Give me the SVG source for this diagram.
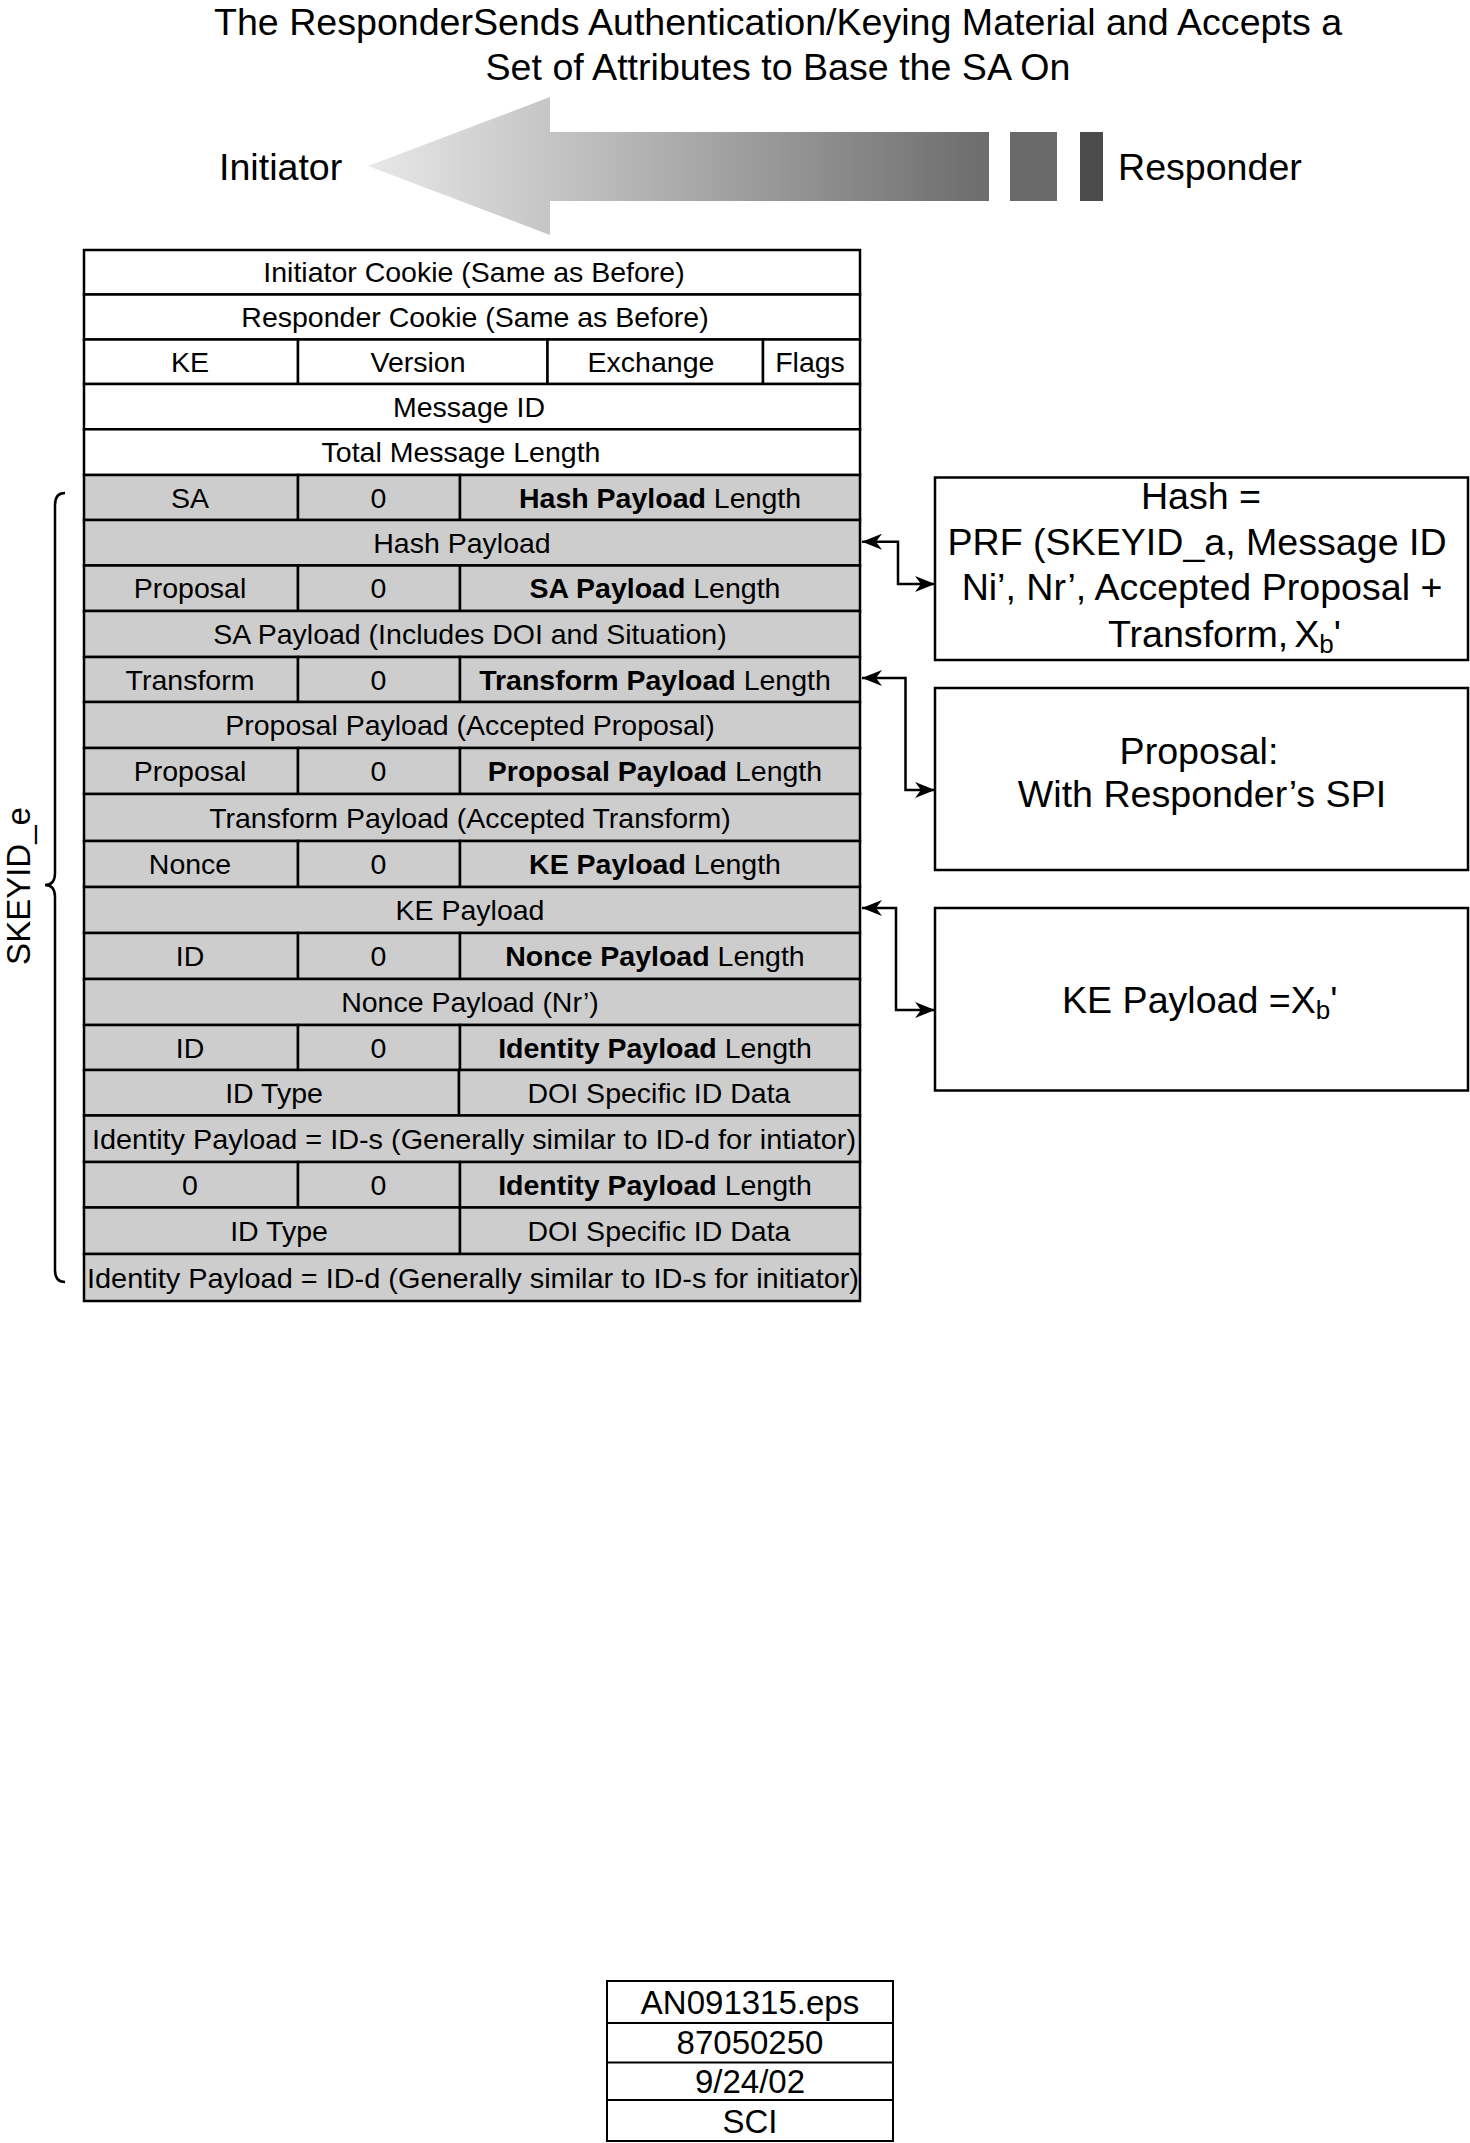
<svg xmlns="http://www.w3.org/2000/svg" width="1470" height="2143" viewBox="0 0 1470 2143">
<defs>
<style>
.c{stroke:#000;stroke-width:2.5}
.w{fill:#fff}
.g{fill:#cdcdcd}
.t{font-family:"Liberation Sans",Arial,sans-serif;font-size:28.5px;text-anchor:middle;fill:#000}
.b{font-weight:bold}
.L{font-family:"Liberation Sans",Arial,sans-serif;font-size:37.6px;fill:#000}
.m{text-anchor:middle}
.box{fill:#fff;stroke:#000;stroke-width:2.5}
.conn{fill:none;stroke:#000;stroke-width:2.5;marker-start:url(#ah);marker-end:url(#ah)}
</style>
<linearGradient id="grad" gradientUnits="userSpaceOnUse" x1="368" y1="0" x2="989" y2="0">
<stop offset="0" stop-color="#e8e8e8"/>
<stop offset="0.3" stop-color="#c4c4c4"/>
<stop offset="1" stop-color="#6c6c6c"/>
</linearGradient>
<marker id="ah" viewBox="0 0 20 16" refX="20" refY="8" markerWidth="20" markerHeight="16" orient="auto-start-reverse" markerUnits="userSpaceOnUse">
<path d="M0,0 L20,8 L0,16 L6,8 Z" fill="#000"/>
</marker>
</defs>

<g id="title">
<text class="L m" x="778" y="35">The ResponderSends Authentication/Keying Material and Accepts a</text>
<text class="L m" x="778" y="80">Set of Attributes to Base the SA On</text>
</g>

<g id="direction-arrow">
<polygon points="368,166 550,97 550,132 989,132 989,201 550,201 550,235" fill="url(#grad)"/>
<rect x="1010" y="132" width="47" height="69" fill="#6a6a6a"/>
<rect x="1080" y="132" width="23" height="69" fill="#4c4c4c"/>
</g>
<g id="initiator"><text class="L" x="219" y="180">Initiator</text></g>
<g id="responder"><text class="L" x="1118" y="180">Responder</text></g>

<g id="skeyid-e">
<path d="M65,493 Q55,493 55,505 L55,873 Q55,885 45,885 Q55,885 55,897 L55,1270 Q55,1282 65,1282" fill="none" stroke="#000" stroke-width="2.5"/>
<text class="t" style="font-size:33px" transform="translate(30,886) rotate(-90)">SKEYID_e</text>
</g>

<g id="table">
<g id="row-initiator-cookie">
<rect class="c w" x="84" y="250" width="776" height="44.5"/>
<text class="t" x="474" y="282.3">Initiator Cookie (Same as Before)</text>
</g>
<g id="row-responder-cookie">
<rect class="c w" x="84" y="294.5" width="776" height="45"/>
<text class="t" x="475" y="327">Responder Cookie (Same as Before)</text>
</g>
<g id="row-header">
<rect class="c w" x="84" y="339.5" width="214" height="44.5"/>
<rect class="c w" x="298" y="339.5" width="249.5" height="44.5"/>
<rect class="c w" x="547.5" y="339.5" width="215.5" height="44.5"/>
<rect class="c w" x="763" y="339.5" width="97" height="44.5"/>
<text class="t" x="190" y="371.8">KE</text>
<text class="t" x="418" y="371.8">Version</text>
<text class="t" x="651" y="371.8">Exchange</text>
<text class="t" x="810" y="371.8">Flags</text>
</g>
<g id="row-message-id">
<rect class="c w" x="84" y="384" width="776" height="45.3"/>
<text class="t" x="469" y="416.7">Message ID</text>
</g>
<g id="row-total-length">
<rect class="c w" x="84" y="429.3" width="776" height="45.7"/>
<text class="t" x="461" y="462.2">Total Message Length</text>
</g>

<g id="row-sa-hdr">
<rect class="c g" x="84" y="475" width="214" height="45"/>
<rect class="c g" x="298" y="475" width="162" height="45"/>
<rect class="c g" x="460" y="475" width="400" height="45"/>
<text class="t" x="190" y="507.5">SA</text>
<text class="t" x="378.5" y="507.5">0</text>
<text class="t" x="660" y="507.5"><tspan class="b">Hash Payload</tspan> Length</text>
</g>
<g id="row-hash-payload">
<rect class="c g" x="84" y="520" width="776" height="45.5"/>
<text class="t" x="462" y="552.8">Hash Payload</text>
</g>
<g id="row-proposal-hdr1">
<rect class="c g" x="84" y="565.5" width="214" height="45.5"/>
<rect class="c g" x="298" y="565.5" width="162" height="45.5"/>
<rect class="c g" x="460" y="565.5" width="400" height="45.5"/>
<text class="t" x="190" y="598.3">Proposal</text>
<text class="t" x="378.5" y="598.3">0</text>
<text class="t" x="655" y="598.3"><tspan class="b">SA Payload</tspan> Length</text>
</g>
<g id="row-sa-payload">
<rect class="c g" x="84" y="611" width="776" height="46"/>
<text class="t" x="470" y="644">SA Payload (Includes DOI and Situation)</text>
</g>
<g id="row-transform-hdr">
<rect class="c g" x="84" y="657" width="214" height="45"/>
<rect class="c g" x="298" y="657" width="162" height="45"/>
<rect class="c g" x="460" y="657" width="400" height="45"/>
<text class="t" x="190" y="689.5">Transform</text>
<text class="t" x="378.5" y="689.5">0</text>
<text class="t" x="655" y="689.5"><tspan class="b">Transform Payload</tspan> Length</text>
</g>
<g id="row-proposal-payload">
<rect class="c g" x="84" y="702" width="776" height="46"/>
<text class="t" x="470" y="735">Proposal Payload (Accepted Proposal)</text>
</g>
<g id="row-proposal-hdr2">
<rect class="c g" x="84" y="748" width="214" height="46"/>
<rect class="c g" x="298" y="748" width="162" height="46"/>
<rect class="c g" x="460" y="748" width="400" height="46"/>
<text class="t" x="190" y="781">Proposal</text>
<text class="t" x="378.5" y="781">0</text>
<text class="t" x="655" y="781"><tspan class="b">Proposal Payload</tspan> Length</text>
</g>
<g id="row-transform-payload">
<rect class="c g" x="84" y="794" width="776" height="47"/>
<text class="t" x="470" y="827.5">Transform Payload (Accepted Transform)</text>
</g>
<g id="row-nonce-hdr">
<rect class="c g" x="84" y="841" width="214" height="46"/>
<rect class="c g" x="298" y="841" width="162" height="46"/>
<rect class="c g" x="460" y="841" width="400" height="46"/>
<text class="t" x="190" y="874">Nonce</text>
<text class="t" x="378.5" y="874">0</text>
<text class="t" x="655" y="874"><tspan class="b">KE Payload</tspan> Length</text>
</g>
<g id="row-ke-payload">
<rect class="c g" x="84" y="887" width="776" height="46"/>
<text class="t" x="470" y="920">KE Payload</text>
</g>
<g id="row-id-hdr1">
<rect class="c g" x="84" y="933" width="214" height="46"/>
<rect class="c g" x="298" y="933" width="162" height="46"/>
<rect class="c g" x="460" y="933" width="400" height="46"/>
<text class="t" x="190" y="966">ID</text>
<text class="t" x="378.5" y="966">0</text>
<text class="t" x="655" y="966"><tspan class="b">Nonce Payload</tspan> Length</text>
</g>
<g id="row-nonce-payload">
<rect class="c g" x="84" y="979" width="776" height="46"/>
<text class="t" x="470" y="1012">Nonce Payload (Nr’)</text>
</g>
<g id="row-id-hdr2">
<rect class="c g" x="84" y="1025" width="214" height="45"/>
<rect class="c g" x="298" y="1025" width="162" height="45"/>
<rect class="c g" x="460" y="1025" width="400" height="45"/>
<text class="t" x="190" y="1057.5">ID</text>
<text class="t" x="378.5" y="1057.5">0</text>
<text class="t" x="655" y="1057.5"><tspan class="b">Identity Payload</tspan> Length</text>
</g>
<g id="row-id-type1">
<rect class="c g" x="84" y="1070" width="375" height="45.5"/>
<rect class="c g" x="459" y="1070" width="401" height="45.5"/>
<text class="t" x="274" y="1102.8">ID Type</text>
<text class="t" x="659" y="1102.8">DOI Specific ID Data</text>
</g>
<g id="row-identity-s">
<rect class="c g" x="84" y="1115.5" width="776" height="46.5"/>
<text class="t" x="474" y="1148.8" textLength="764" lengthAdjust="spacingAndGlyphs">Identity Payload = ID-s (Generally similar to ID-d for intiator)</text>
</g>
<g id="row-id-hdr3">
<rect class="c g" x="84" y="1162" width="214" height="45.5"/>
<rect class="c g" x="298" y="1162" width="162" height="45.5"/>
<rect class="c g" x="460" y="1162" width="400" height="45.5"/>
<text class="t" x="190" y="1194.8">0</text>
<text class="t" x="378.5" y="1194.8">0</text>
<text class="t" x="655" y="1194.8"><tspan class="b">Identity Payload</tspan> Length</text>
</g>
<g id="row-id-type2">
<rect class="c g" x="84" y="1207.5" width="376" height="46.5"/>
<rect class="c g" x="460" y="1207.5" width="400" height="46.5"/>
<text class="t" x="279" y="1240.8">ID Type</text>
<text class="t" x="659" y="1240.8">DOI Specific ID Data</text>
</g>
<g id="row-identity-d">
<rect class="c g" x="84" y="1254" width="776" height="47"/>
<text class="t" x="473" y="1287.5" textLength="772" lengthAdjust="spacingAndGlyphs">Identity Payload = ID-d (Generally similar to ID-s for initiator)</text>
</g>
</g>

<g id="hash-box">
<rect class="box" x="935" y="477.5" width="533" height="182.5"/>
<text class="L m" x="1201" y="509">Hash =</text>
<text class="L m" x="1197" y="555">PRF (SKEYID_a, Message ID</text>
<text class="L m" x="1202" y="600">Ni’, Nr’, Accepted Proposal +</text>
<text class="L" x="1108" y="647">Transform,<tspan dx="6">X</tspan><tspan font-size="26" dy="6">b</tspan><tspan dy="-6">'</tspan></text>
</g>
<g id="proposal-box">
<rect class="box" x="935" y="688" width="533" height="182"/>
<text class="L m" x="1199" y="764">Proposal:</text>
<text class="L m" x="1202" y="807">With Responder’s SPI</text>
</g>
<g id="ke-box">
<rect class="box" x="935" y="908" width="533" height="182.5"/>
<text class="L" x="1062" y="1013">KE Payload =X<tspan font-size="26" dy="6">b</tspan><tspan dy="-6">'</tspan></text>
</g>

<g id="connectors">
<path class="conn" d="M862,541.7 H898 V584 H935"/>
<path class="conn" d="M862,678 H905.5 V790 H935"/>
<path class="conn" d="M862,908 H896 V1010 H935"/>
</g>

<g id="stamp">
<rect x="607" y="1981" width="286" height="160" fill="#fff" stroke="#000" stroke-width="2"/>
<line x1="607" y1="2023" x2="893" y2="2023" stroke="#000" stroke-width="2"/>
<line x1="607" y1="2062.5" x2="893" y2="2062.5" stroke="#000" stroke-width="2"/>
<line x1="607" y1="2100" x2="893" y2="2100" stroke="#000" stroke-width="2"/>
<text class="L m" style="font-size:33px" x="750" y="2014">AN091315.eps</text>
<text class="L m" style="font-size:33px" x="750" y="2054">87050250</text>
<text class="L m" style="font-size:33px" x="750" y="2093">9/24/02</text>
<text class="L m" style="font-size:33px" x="750" y="2133">SCI</text>
</g>
</svg>
